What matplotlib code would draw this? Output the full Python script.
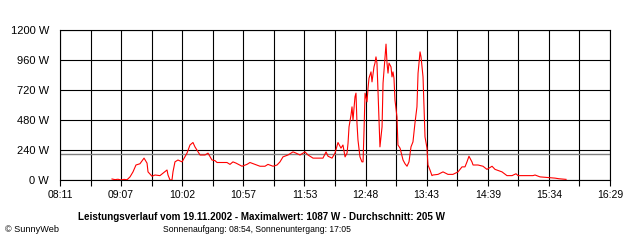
import numpy as np
from matplotlib import pyplot as plt

# Leistung in W, Zeit in Minuten seit Mitternacht
minuten = [538.1, 540.8, 543.5, 546.2, 548.9, 551.7, 554.4, 557.1, 559.8, 563.4,
           567.1, 569.8, 570.7, 574.3, 577.0, 581.5, 584.3, 587.9, 588.8, 590.6,
           592.4, 593.3, 595.1, 597.8, 601.5, 606.0, 608.7, 611.4, 613.2, 617.8,
           622.3, 625.0, 628.6, 631.3, 633.2, 642.2, 644.9, 647.6, 650.4, 655.8,
           660.3, 663.0, 667.6, 672.1, 676.6, 679.3, 683.9, 687.5, 690.2, 692.9,
           697.4, 702.0, 704.7, 708.3, 712.8, 715.6, 720.1, 726.4, 729.1, 731.9,
           733.7, 737.3, 740.0, 742.7, 745.4, 747.2, 749.1, 750.9, 751.8, 752.7,
           754.5, 755.4, 756.3, 758.1, 759.0, 759.9, 760.8, 762.6, 764.4, 765.4,
           766.3, 767.2, 769.0, 769.9, 770.8, 772.6, 773.5, 775.3, 776.2, 777.1,
           778.0, 778.9, 780.7, 782.6, 783.5, 785.3, 786.2, 787.1, 788.0, 788.9,
           790.7, 791.6, 792.5, 793.4, 794.3, 796.1, 797.0, 798.9, 801.6, 803.4,
           805.2, 807.0, 808.8, 810.6, 812.4, 814.2, 815.2, 817.0, 817.9, 819.7,
           820.6, 821.5, 823.3, 823.7, 824.2, 826.0, 827.8, 828.7, 833.3, 837.8,
           842.3, 846.8, 851.4, 855.0, 857.7, 859.5, 861.3, 864.0, 865.0, 869.5,
           874.0, 877.6, 882.2, 884.9, 891.2, 895.7, 900.3, 903.9, 905.7, 919.3,
           921.1, 925.6, 932.9, 939.2, 942.8, 949.2]
leistung = [8, 3, 6, 0, 5, 2, 25, 65, 120, 130,
            175, 135, 65, 30, 40, 35, 55, 80, 40, 0,
            0, 65, 145, 160, 145, 215, 280, 300, 265, 200,
            200, 215, 160, 155, 140, 140, 125, 145, 135, 110,
            125, 140, 125, 110, 110, 125, 110, 120, 145, 185,
            200, 225, 215, 200, 225, 200, 175, 175, 175, 225,
            190, 175, 215, 300, 255, 280, 185, 215, 295, 425,
            520, 585, 480, 665, 695, 455, 320, 185, 145, 145,
            400, 695, 625, 735, 815, 865, 785, 905, 935, 985,
            935, 720, 265, 425, 775, 985, 1087, 935, 855, 935,
            905, 825, 865, 815, 640, 505, 280, 255, 160, 130,
            110, 145, 265, 305, 455, 585, 855, 1025, 985, 825,
            585, 345, 255, 185, 120, 80, 35, 40, 45, 65,
            45, 45, 65, 105, 105, 145, 190, 145, 120, 120,
            110, 85, 110, 85, 65, 35, 35, 50, 35, 35,
            40, 25, 20, 15, 10, 5]

durchschnitt = 205
start, ende = 491, 989   # 08:11 bis 16:29
x_labels = ["08:11", "09:07", "10:02", "10:57", "11:53",
            "12:48", "13:43", "14:39", "15:34", "16:29"]
y_ticks = [0, 240, 480, 720, 960, 1200]

plt.rcParams['font.family'] = ['Liberation Sans', 'DejaVu Sans']

fig = plt.figure(figsize=(6.4, 2.4), dpi=100)
ax = fig.add_axes([60/640, 60/240, 550/640, 150/240])

x_major = np.linspace(start, ende, len(x_labels))
x_minor = np.linspace(start, ende, 2 * len(x_labels) - 1)

for m in x_minor:
    ax.axvline(m, color='black', lw=0.8, zorder=1)
for v in y_ticks:
    ax.axhline(v, color='black', lw=0.8, zorder=1)

ax.axhline(durchschnitt, color='#808080', lw=1.0, zorder=2)
ax.plot(minuten, leistung, color='red', lw=0.8, zorder=3)

ax.set_xlim(start, ende)
ax.set_ylim(0, 1200)
ax.set_xticks(x_major)
ax.set_xticks(x_minor, minor=True)
ax.set_xticklabels(x_labels)
ax.set_yticks(y_ticks)
ax.set_yticklabels(["%d W" % v for v in y_ticks])
ax.tick_params(axis='x', which='both', direction='out', length=4, width=0.8, labelsize=7.5, pad=3)
ax.tick_params(axis='y', length=0, labelsize=8, pad=8)
for s in ax.spines.values():
    s.set_linewidth(0.8)

fig.text(261/640, 1 - 217/240, "Leistungsverlauf vom 19.11.2002 - Maximalwert: 1087 W - Durchschnitt: 205 W",
         ha='center', va='center', fontsize=7.1, fontweight='bold')
fig.text(257/640, 1 - 229.5/240, "Sonnenaufgang: 08:54, Sonnenuntergang: 17:05",
         ha='center', va='center', fontsize=6.2)
fig.text(5/640, 1 - 229.5/240, "© SunnyWeb", ha='left', va='center', fontsize=6.6)

fig.savefig("out.png", dpi=100)
